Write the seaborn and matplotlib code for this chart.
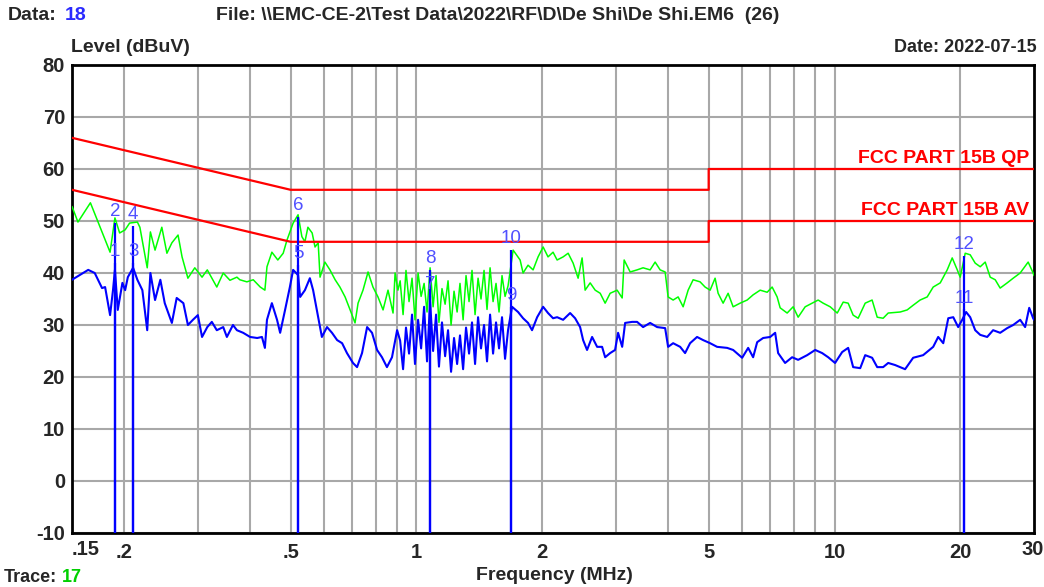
import matplotlib
matplotlib.use("Agg")
import matplotlib.pyplot as plt
import matplotlib.transforms as mtransforms
from matplotlib.ticker import NullFormatter
import pandas as pd
import seaborn as sns

# ---------------- data ----------------
# Peak sweep (green trace): frequency in MHz, level in dBuV
peak_freq = [
    0.150, 0.155, 0.166, 0.185, 0.190, 0.195, 0.201, 0.206, 0.215, 0.218,
    0.227, 0.231, 0.237, 0.246, 0.253, 0.260, 0.269, 0.275, 0.284, 0.295,
    0.307, 0.316, 0.333, 0.345, 0.358, 0.372, 0.378, 0.393, 0.407, 0.423,
    0.434, 0.439, 0.451, 0.466, 0.480, 0.490, 0.507, 0.521, 0.532, 0.541,
    0.550, 0.563, 0.572, 0.582, 0.588, 0.604, 0.621, 0.639, 0.656, 0.675,
    0.694, 0.713, 0.725, 0.745, 0.766, 0.787, 0.809, 0.832, 0.855, 0.879,
    0.889, 0.903,
    0.914, 0.929, 0.944, 0.960, 0.976, 0.992, 1.009, 1.026, 1.043, 1.060,
    1.078, 1.096, 1.114, 1.132, 1.151, 1.171, 1.190, 1.210, 1.230, 1.251,
    1.271, 1.293, 1.314, 1.336, 1.358, 1.381, 1.404, 1.427, 1.451, 1.475,
    1.500, 1.525, 1.550, 1.576, 1.602, 1.629, 1.656,
    1.703, 1.770, 1.799, 1.849, 1.901, 1.954, 2.009, 2.064, 2.122, 2.170,
    2.243, 2.306, 2.370, 2.436, 2.490, 2.532, 2.603, 2.676, 2.751, 2.827,
    2.906, 3.020, 3.105, 3.139, 3.245, 3.371, 3.484, 3.622, 3.723, 3.827,
    3.934, 3.999, 4.111, 4.226, 4.344, 4.465, 4.590, 4.769, 4.902, 5.040,
    5.180, 5.267, 5.414, 5.565, 5.721, 5.946, 6.180, 6.387, 6.639, 6.900,
    7.092, 7.290, 7.412, 7.703, 7.962, 8.184, 8.507, 8.841, 9.138, 9.393,
    9.764, 10.15, 10.49, 10.78, 11.08, 11.39, 11.84, 12.30, 12.65, 13.07,
    13.44, 14.36, 14.92, 15.42, 16.02, 16.66, 17.22, 17.90, 18.60, 19.12,
    19.66, 19.98, 20.54, 21.11, 21.70, 22.31, 22.93, 23.57, 24.23, 24.90,
    25.88, 26.75, 27.80, 29.05, 29.86, 30.0,
]
peak_level = [
    52.8, 49.8, 53.5, 44.0, 50.6, 47.7, 48.3, 49.6, 49.8, 48.8,
    41.0, 47.9, 44.4, 48.8, 43.8, 45.8, 47.3, 43.1, 39.0, 41.0,
    39.2, 40.6, 37.3, 40.0, 38.6, 39.2, 38.7, 38.3, 38.7, 37.3,
    36.7, 41.2, 44.0, 42.5, 43.8, 46.3, 49.6, 51.2, 47.0, 46.0,
    48.8, 47.7, 45.0, 45.8, 39.2, 42.1, 40.6, 38.7, 37.3, 35.4,
    32.9, 30.4, 34.2, 36.7, 40.2, 37.3, 35.4, 32.9, 36.7, 32.3,
    40.0, 36.7,
    38.5, 32.0, 40.5, 34.5, 39.0, 31.0, 40.0, 35.5, 38.0, 32.5,
    41.0, 33.5, 39.5, 30.5, 37.0, 34.0, 38.5, 30.0, 36.5, 32.5,
    38.0, 31.0, 39.5, 34.5, 40.5, 32.0, 39.0, 35.0, 40.5, 33.0,
    41.0, 34.5, 38.0, 32.5, 39.5, 35.5, 37.5,
    44.4, 42.5, 40.0, 41.5, 40.6, 43.1, 45.0, 43.1, 44.0, 42.5,
    43.1, 43.8, 41.9, 39.0, 42.9, 36.7, 38.1, 36.7, 36.1, 34.2,
    36.1, 36.7, 35.2, 42.5, 40.2, 40.6, 41.0, 40.6, 42.1, 40.6,
    40.2, 35.4, 34.8, 35.4, 33.5, 36.7, 38.7, 38.3, 37.3, 36.7,
    39.0, 36.1, 34.2, 36.1, 33.5, 34.2, 34.8, 35.8, 36.7, 36.3,
    37.3, 35.4, 33.3, 32.3, 33.5, 31.5, 33.5, 34.2, 34.8, 34.2,
    33.5, 32.3, 34.4, 34.2, 31.9, 31.3, 34.2, 34.8, 31.5, 31.3,
    32.3, 32.5, 32.9, 33.8, 34.8, 35.4, 37.3, 38.1, 40.6, 42.9,
    40.6, 39.2, 43.8, 43.5, 41.9, 41.2, 42.1, 39.2, 38.7, 37.1,
    38.1, 39.0, 40.0, 42.1, 40.0, 39.5,
]

# Average sweep (blue trace)
avg_freq = [
    0.150, 0.164, 0.170, 0.177, 0.180, 0.185, 0.188, 0.190, 0.193, 0.198,
    0.201, 0.204, 0.210, 0.215, 0.221, 0.227, 0.231, 0.237, 0.244, 0.250,
    0.260, 0.267, 0.277, 0.284, 0.292, 0.300, 0.307, 0.316, 0.324, 0.333,
    0.345, 0.352, 0.364, 0.372, 0.385, 0.400, 0.416, 0.427, 0.434, 0.439,
    0.451, 0.464, 0.472, 0.485, 0.498, 0.507, 0.521, 0.527, 0.541, 0.556,
    0.566, 0.582, 0.594, 0.611, 0.628, 0.646, 0.664, 0.682, 0.705, 0.721,
    0.741, 0.762, 0.783, 0.805, 0.827, 0.850, 0.874, 0.899,
    0.914, 0.929, 0.944, 0.960, 0.976, 0.992, 1.009, 1.026, 1.043, 1.060,
    1.078, 1.096, 1.114, 1.132, 1.151, 1.171, 1.190, 1.210, 1.230, 1.251,
    1.271, 1.293, 1.314, 1.336, 1.358, 1.381, 1.404, 1.427, 1.451, 1.475,
    1.500, 1.525, 1.550, 1.576, 1.602, 1.629, 1.656,
    1.693, 1.750, 1.799, 1.849, 1.890, 1.944, 2.009, 2.064, 2.122, 2.170,
    2.243, 2.331, 2.396, 2.463, 2.504, 2.559, 2.631, 2.705, 2.780, 2.827,
    2.906, 2.986, 3.036, 3.105, 3.156, 3.280, 3.371, 3.484, 3.622, 3.764,
    3.934, 3.999, 4.111, 4.273, 4.391, 4.513, 4.690, 4.849, 5.040, 5.237,
    5.535, 5.721, 6.012, 6.215, 6.387, 6.531, 6.749, 7.015, 7.211, 7.330,
    7.617, 7.917, 8.184, 8.600, 8.990, 9.341, 9.657, 10.03, 10.43, 10.78,
    11.08, 11.52, 11.84, 12.30, 12.65, 13.07, 13.44, 13.96, 14.75, 15.42,
    16.29, 17.22, 17.70, 18.20, 18.71, 19.23, 19.76, 20.20, 20.64, 21.11,
    21.70, 22.31, 23.18, 23.95, 24.90, 25.88, 26.75, 27.80, 28.57, 29.22,
    29.86, 30.0,
]
avg_level = [
    38.7, 40.6, 40.0, 37.1, 37.3, 31.9, 36.7, 40.6, 32.9, 38.1,
    36.7, 39.2, 41.0, 38.7, 36.7, 29.0, 40.0, 34.8, 38.7, 34.2,
    30.4, 35.2, 34.2, 30.0, 31.0, 31.9, 27.7, 29.6, 30.6, 29.0,
    29.6, 27.7, 30.0, 29.0, 28.5, 27.7, 27.5, 27.7, 25.6, 31.0,
    34.2, 31.0, 28.5, 32.9, 37.3, 40.6, 39.6, 35.4, 36.7, 39.0,
    36.7, 31.5, 27.7, 29.6, 28.5, 27.1, 26.5, 24.6, 22.7, 21.9,
    24.6, 29.6, 28.5, 25.2, 23.8, 21.9, 23.8, 29.0,
    27.0, 21.5, 29.5, 24.5, 32.0, 22.5, 31.0, 25.5, 33.5, 23.0,
    34.5, 25.0, 32.0, 22.0, 30.5, 24.0, 29.0, 21.0, 27.5, 22.5,
    28.0, 21.5, 29.5, 24.5, 30.5, 22.5, 31.5, 25.5, 30.0, 23.0,
    32.0, 24.5, 30.5, 25.5, 31.5, 23.5, 29.0,
    33.5, 32.5, 31.3, 30.4, 29.0, 31.5, 33.5, 32.3, 31.3, 31.5,
    31.0, 32.3, 31.3, 29.6, 27.1, 25.2, 27.7, 25.8, 25.8, 23.8,
    24.6, 25.2, 28.5, 25.8, 30.4, 30.6, 30.6, 29.6, 30.4, 29.6,
    29.4, 25.8, 26.5, 25.8, 24.6, 26.5, 27.7, 27.1, 26.5, 25.8,
    25.6, 25.2, 23.7, 25.6, 23.8, 26.7, 27.5, 27.7, 28.5, 24.6,
    22.7, 23.8, 23.3, 24.2, 25.2, 24.6, 23.8, 22.7, 24.8, 25.6,
    21.9, 21.7, 24.2, 23.7, 21.9, 21.9, 22.7, 22.3, 21.5, 23.7,
    24.2, 25.8, 27.7, 26.5, 31.3, 31.5, 29.6, 31.0, 32.5, 31.5,
    29.0, 28.1, 27.7, 29.0, 28.5, 29.4, 30.0, 31.0, 29.6, 33.3,
    31.3, 31.0,
]

# FCC Part 15B conducted limits (dBuV)
qp_limit_freq = [0.15, 0.5, 0.5, 5.0, 5.0, 30.0]
qp_limit_level = [66, 56, 56, 56, 60, 60]
av_limit_freq = [0.15, 0.5, 0.5, 5.0, 5.0, 30.0]
av_limit_level = [56, 46, 46, 46, 50, 50]

# Numbered measurement markers
marker_no = [1, 2, 3, 4, 5, 6, 7, 8, 9, 10, 11, 12]
marker_freq = [0.190, 0.190, 0.210, 0.210, 0.521, 0.521,
               1.078, 1.078, 1.684, 1.684, 20.42, 20.42]
marker_level = [42.0, 49.6, 42.0, 49.0, 41.5, 50.8,
                35.6, 40.6, 33.5, 44.4, 33.0, 43.3]

grid_major = [0.2, 0.5, 1, 2, 5, 10, 20]
grid_major_labels = [".2", ".5", "1", "2", "5", "10", "20"]
grid_minor = [0.3, 0.4, 0.6, 0.7, 0.8, 0.9, 3, 4, 6, 7, 8, 9]
level_ticks = [-10, 0, 10, 20, 30, 40, 50, 60, 70, 80]

# ---------------- style ----------------
sns.set_style("white")
plt.rcParams["font.family"] = ["Liberation Sans", "DejaVu Sans"]

W, H = 1044, 587
fig = plt.figure(figsize=(W / 100, H / 100), dpi=100)
fig.patch.set_facecolor("white")
L, R, T, B = 72, 1034, 65, 533
ax = fig.add_axes([L / W, 1 - B / H, (R - L) / W, (B - T) / H])

peak_df = pd.DataFrame({"freq": peak_freq, "level": peak_level})
avg_df = pd.DataFrame({"freq": avg_freq, "level": avg_level})

sns.lineplot(data=peak_df, x="freq", y="level", ax=ax, color="#00ff00",
             lw=1.1, estimator=None, sort=False, zorder=3)
sns.lineplot(data=avg_df, x="freq", y="level", ax=ax, color="#0000ff",
             lw=1.5, estimator=None, sort=False, zorder=3)
sns.lineplot(x=qp_limit_freq, y=qp_limit_level, ax=ax, color="#ff0000",
             lw=1.6, estimator=None, sort=False, zorder=4)
sns.lineplot(x=av_limit_freq, y=av_limit_level, ax=ax, color="#ff0000",
             lw=1.6, estimator=None, sort=False, zorder=4)

ax.set_xscale("log")
ax.set_xlim(0.15, 30)
ax.set_ylim(-10, 80)

# marker stems and numbers
for n, f, v in zip(marker_no, marker_freq, marker_level):
    ax.vlines(f, -10, v, color="#0000ff", lw=1.6, zorder=5)
    ax.annotate(str(n), (f, v), xytext=(0, 2), textcoords="offset points",
                ha="center", va="bottom", color="#5050ff", fontsize=13.5,
                zorder=6)

# grid and ticks
ax.set_xticks(grid_major)
ax.set_xticklabels(grid_major_labels)
ax.set_xticks(grid_minor, minor=True)
ax.xaxis.set_minor_formatter(NullFormatter())
ax.set_yticks(level_ticks)
ax.set_yticklabels([str(t) for t in level_ticks])
ax.grid(which="both", axis="both", color="#a8a8a8", lw=1.5, zorder=0)
ax.set_axisbelow(True)
ax.tick_params(which="both", length=0)
ax.tick_params(axis="x", pad=7)
ax.tick_params(axis="y", pad=5)
for lab in ax.get_xticklabels() + ax.get_yticklabels():
    lab.set_fontweight("bold")
    lab.set_fontsize(14.5)
for sp in ax.spines.values():
    sp.set_color("black")
    sp.set_linewidth(2)
ax.set_xlabel("")
ax.set_ylabel("")

# end labels of the frequency axis
xb = mtransforms.blended_transform_factory(ax.transData, ax.transAxes)
ax.annotate(".15", (0.15, 0), xycoords=xb, xytext=(0, -7),
            textcoords="offset pixels", ha="left", va="top",
            fontsize=14.5, fontweight="bold", annotation_clip=False)
ax.annotate("30", (30, 0), xycoords=xb, xytext=(-12, -7),
            textcoords="offset pixels", ha="left", va="top",
            fontsize=14.5, fontweight="bold", annotation_clip=False)

# limit names
yb = mtransforms.blended_transform_factory(ax.transAxes, ax.transData)
ax.annotate("FCC PART 15B QP", (1, 60), xycoords=yb, xytext=(-5, 2),
            textcoords="offset pixels", ha="right", va="bottom",
            color="#ff0000", fontsize=14, fontweight="bold")
ax.annotate("FCC PART 15B AV", (1, 50), xycoords=yb, xytext=(-5, 2),
            textcoords="offset pixels", ha="right", va="bottom",
            color="#ff0000", fontsize=14, fontweight="bold")


def ftext(x, y, s, **kw):
    kw.setdefault("fontweight", "bold")
    kw.setdefault("fontsize", 14)
    kw.setdefault("va", "center")
    fig.text(x / W, 1 - y / H, s, **kw)


ftext(8, 15, "Data:")
ftext(65, 15, "18", color="#2a2aff")
ftext(216, 15, r"File: \\EMC-CE-2\Test Data\2022\RF\D\De Shi\De Shi.EM6  (26)")
ftext(71, 47, "Level (dBuV)")
ftext(1037, 47, "Date: 2022-07-15", ha="right", fontsize=13)
ftext(554, 575, "Frequency (MHz)", ha="center")
ftext(4, 578, "Trace:", fontsize=13)
ftext(62, 578, "17", color="#00d000", fontsize=13)

fig.savefig("out.png", dpi=100, facecolor="white")
